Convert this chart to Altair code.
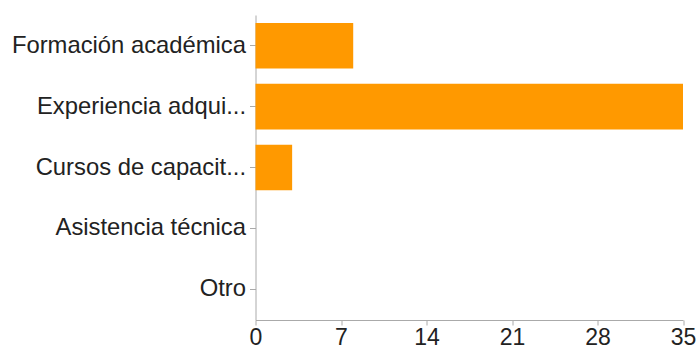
import altair as alt
import pandas as pd

categories = ["Formación académica", "Experiencia adqui...", "Cursos de capacit...",
              "Asistencia técnica", "Otro"]
counts = [8, 35, 3, 0, 0]
x_ticks = [0, 7, 14, 21, 28, 35]

df = pd.DataFrame({"cat": categories, "n": counts})

FONT = "Liberation Sans"

chart = alt.Chart(df).mark_bar(color="#FF9900").encode(
    y=alt.Y("cat:N", sort=categories,
            scale=alt.Scale(paddingInner=0.25, paddingOuter=0.13),
            axis=alt.Axis(title=None, labelFont=FONT, labelFontSize=23.8,
                          labelColor="#222222", tickSize=6, labelPadding=4,
                          tickColor="#aaaaaa", domainColor="#aaaaaa",
                          labelLimit=300)),
    x=alt.X("n:Q", scale=alt.Scale(domain=[0, 35], nice=False),
            axis=alt.Axis(title=None, values=x_ticks, grid=False,
                          labelFont=FONT, labelFontSize=23,
                          labelColor="#222222", tickSize=5, labelPadding=1,
                          tickColor="#aaaaaa", domainColor="#aaaaaa",
                          labelFlush=False)),
).properties(
    width=427.5, height=305,
    autosize=alt.AutoSizeParams(type="none"),
    padding={"left": 255.5, "top": 15, "right": 14, "bottom": 30},
).configure_view(stroke=None)

chart.save("out.html", embed_options={"renderer": "svg", "actions": False})
